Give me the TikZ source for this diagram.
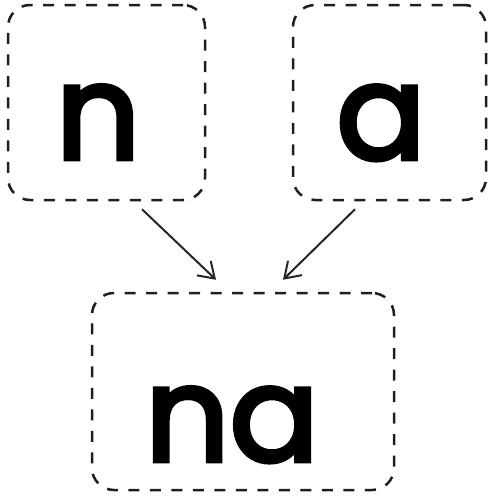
\documentclass[tikz,border=0pt]{standalone}
\usepackage{fontspec}
\newfontfamily\glyphfont{Poppins}[FakeBold=3.6]
\usetikzlibrary{arrows.meta,calc}
\begin{document}
\begin{tikzpicture}[x=1pt,y=-1pt,
  box/.style={draw=black!88,line width=2.5pt,dash pattern=on 11pt off 10.5pt,rounded corners=22pt,inner sep=0pt},
  glyph/.style={inner sep=0pt,anchor=base,font=\glyphfont\fontsize{132}{132}\selectfont},
  conn/.style={draw=black!85,line width=2pt,-{Straight Barb[length=15pt,width=20pt,line width=2pt]}}]
\useasboundingbox (0,0) rectangle (488,498);
\node[box,minimum width=197pt,minimum height=195pt] (b1) at (106.5,102.5) {};
\node[box,minimum width=193pt,minimum height=195pt] (b2) at (389.5,102.5) {};
\node[box,minimum width=302pt,minimum height=197pt] (b3) at (243,391.5) {};
\node[glyph] (t1) at (98,159) {n};
\node[glyph] (t2) at (381,159) {a};
\node[glyph] (t3) at (232,461) {na};
\coordinate (s1) at ($(b1.south)+(35.5,8)$);
\coordinate (s2) at ($(b2.south)+(-34.5,8)$);
\coordinate (e1) at ($(b3.north)+(-27,-12)$);
\coordinate (e2) at ($(b3.north)+(40,-12)$);
\draw[conn] (s1) -- (e1);
\draw[conn] (s2) -- (e2);
\end{tikzpicture}
\end{document}
